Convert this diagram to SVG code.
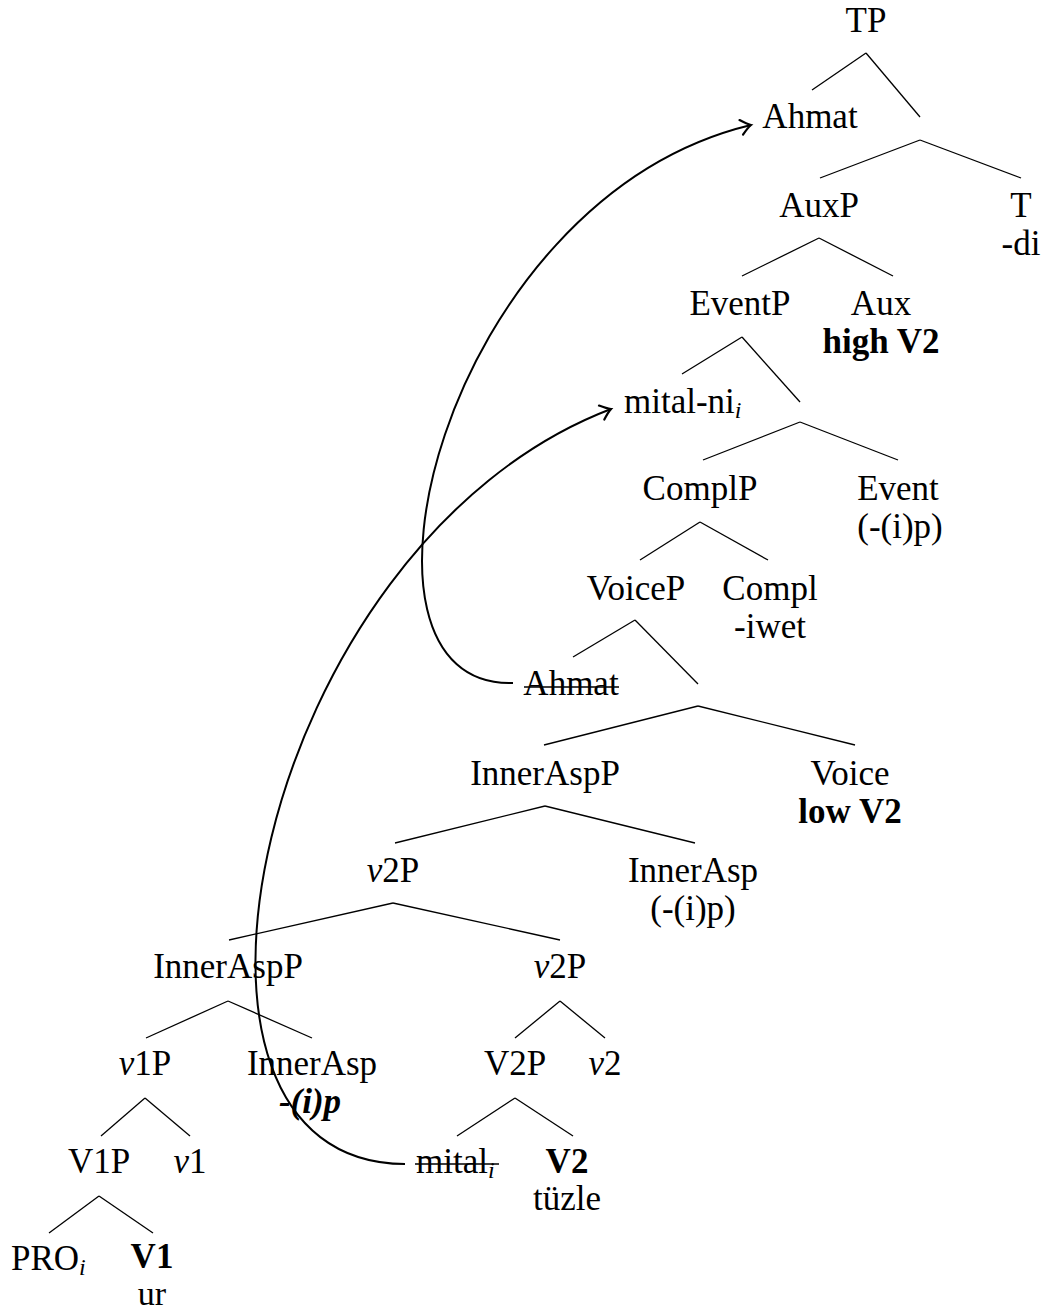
<svg xmlns="http://www.w3.org/2000/svg" width="1043" height="1312" viewBox="0 0 1043 1312">
<style>
text{font-family:"Liberation Serif","Times New Roman",serif;font-size:35px;fill:#000;text-anchor:middle}
.s{text-anchor:start}
.b{font-weight:bold}
.i{font-style:italic}
.sub{font-size:24px;font-style:italic}
.e line{stroke:#000;stroke-width:1.3}
.strike{stroke:#000;stroke-width:1.3}
.mv{fill:none;stroke:#000;stroke-width:2}
</style>
<defs>
<marker id="ah" markerUnits="userSpaceOnUse" markerWidth="20" markerHeight="20" viewBox="-10 -8 12 16" refX="0" refY="0" orient="auto">
<path d="M-8,-6 Q-3,-1.5 0,0 Q-3,1.5 -8,6" fill="none" stroke="#000" stroke-width="1.8" stroke-linecap="round"/>
</marker>
</defs>
<rect width="1043" height="1312" fill="#fff"/>
<g id="edges" class="e">
<line x1="866" y1="53" x2="812" y2="90"/><line x1="866" y1="53" x2="920" y2="117"/>
<line x1="920" y1="140" x2="820" y2="178"/><line x1="920" y1="140" x2="1021" y2="178"/>
<line x1="819" y1="238" x2="742" y2="276"/><line x1="819" y1="238" x2="893" y2="276"/>
<line x1="742" y1="337" x2="682" y2="374"/><line x1="742" y1="337" x2="800" y2="402"/>
<line x1="800" y1="422" x2="703" y2="460"/><line x1="800" y1="422" x2="898" y2="460"/>
<line x1="700" y1="522" x2="640" y2="560"/><line x1="700" y1="522" x2="768" y2="560"/>
<line x1="635" y1="620" x2="573" y2="657"/><line x1="635" y1="620" x2="698" y2="684"/>
<line x1="698" y1="706" x2="544" y2="745"/><line x1="698" y1="706" x2="855" y2="745"/>
<line x1="545" y1="806" x2="395" y2="843"/><line x1="545" y1="806" x2="695" y2="843"/>
<line x1="393" y1="903" x2="229" y2="940"/><line x1="393" y1="903" x2="560" y2="940"/>
<line x1="228" y1="1001" x2="146" y2="1038"/><line x1="228" y1="1001" x2="312" y2="1038"/>
<line x1="560" y1="1001" x2="515" y2="1038"/><line x1="560" y1="1001" x2="605" y2="1038"/>
<line x1="145" y1="1098" x2="101" y2="1136"/><line x1="145" y1="1098" x2="190" y2="1136"/>
<line x1="515" y1="1098" x2="457" y2="1136"/><line x1="515" y1="1098" x2="573" y2="1136"/>
<line x1="99" y1="1196" x2="49" y2="1233"/><line x1="99" y1="1196" x2="153" y2="1233"/>
</g>
<g id="movement">
<path class="mv" d="M513,683 C325,690 440,200 751,125" marker-end="url(#ah)"/>
<path class="mv" d="M405,1164 C130,1164 255,545 611,409" marker-end="url(#ah)"/>
</g>
<g id="n-TP"><text x="866" y="32">TP</text></g>
<g id="n-Ahmat"><text x="810" y="128">Ahmat</text></g>
<g id="n-AuxP"><text x="819" y="217">AuxP</text></g>
<g id="n-T"><text x="1021" y="217">T</text><text x="1021" y="255">-di</text></g>
<g id="n-EventP"><text x="740" y="315">EventP</text></g>
<g id="n-Aux"><text x="881" y="315">Aux</text><text class="b" x="881" y="353">high V2</text></g>
<g id="n-mitalni"><text class="s" x="624" y="413">mital-ni<tspan class="sub" dy="5">i</tspan></text></g>
<g id="n-ComplP"><text x="700" y="500">ComplP</text></g>
<g id="n-Event"><text x="898" y="500">Event</text><text x="900" y="538">(-(i)p)</text></g>
<g id="n-VoiceP"><text x="636" y="600">VoiceP</text></g>
<g id="n-Compl"><text x="770" y="600">Compl</text><text x="770" y="638">-iwet</text></g>
<g id="n-Ahmat-trace"><text x="571" y="695">Ahmat</text><line class="strike" x1="524" y1="687" x2="619" y2="687"/></g>
<g id="n-InnerAspP1"><text x="545" y="785">InnerAspP</text></g>
<g id="n-Voice"><text x="850" y="785">Voice</text><text class="b" x="850" y="823">low V2</text></g>
<g id="n-v2P1"><text x="393" y="882"><tspan class="i">v</tspan>2P</text></g>
<g id="n-InnerAsp1"><text x="693" y="882">InnerAsp</text><text x="693" y="920">(-(i)p)</text></g>
<g id="n-InnerAspP2"><text x="228" y="978">InnerAspP</text></g>
<g id="n-v2P2"><text x="560" y="978"><tspan class="i">v</tspan>2P</text></g>
<g id="n-v1P"><text x="145" y="1075"><tspan class="i">v</tspan>1P</text></g>
<g id="n-InnerAsp2"><text x="312" y="1075">InnerAsp</text><text class="b i" x="310" y="1113">-(i)p</text></g>
<g id="n-V2P"><text x="515" y="1075">V2P</text></g>
<g id="n-v2"><text x="605" y="1075"><tspan class="i">v</tspan>2</text></g>
<g id="n-V1P"><text x="99" y="1173">V1P</text></g>
<g id="n-v1"><text x="190" y="1173"><tspan class="i">v</tspan>1</text></g>
<g id="n-mital-trace"><text class="s" x="416" y="1173">mital<tspan class="sub" dy="5">i</tspan></text><line class="strike" x1="415" y1="1164" x2="499" y2="1164"/></g>
<g id="n-V2"><text class="b" x="567" y="1173">V2</text><text x="567" y="1210">tüzle</text></g>
<g id="n-PRO"><text class="s" x="11" y="1270">PRO<tspan class="sub" dy="5">i</tspan></text></g>
<g id="n-V1"><text class="b" x="152" y="1268">V1</text><text x="152" y="1305" style="font-size:34px">ur</text></g>
</svg>
